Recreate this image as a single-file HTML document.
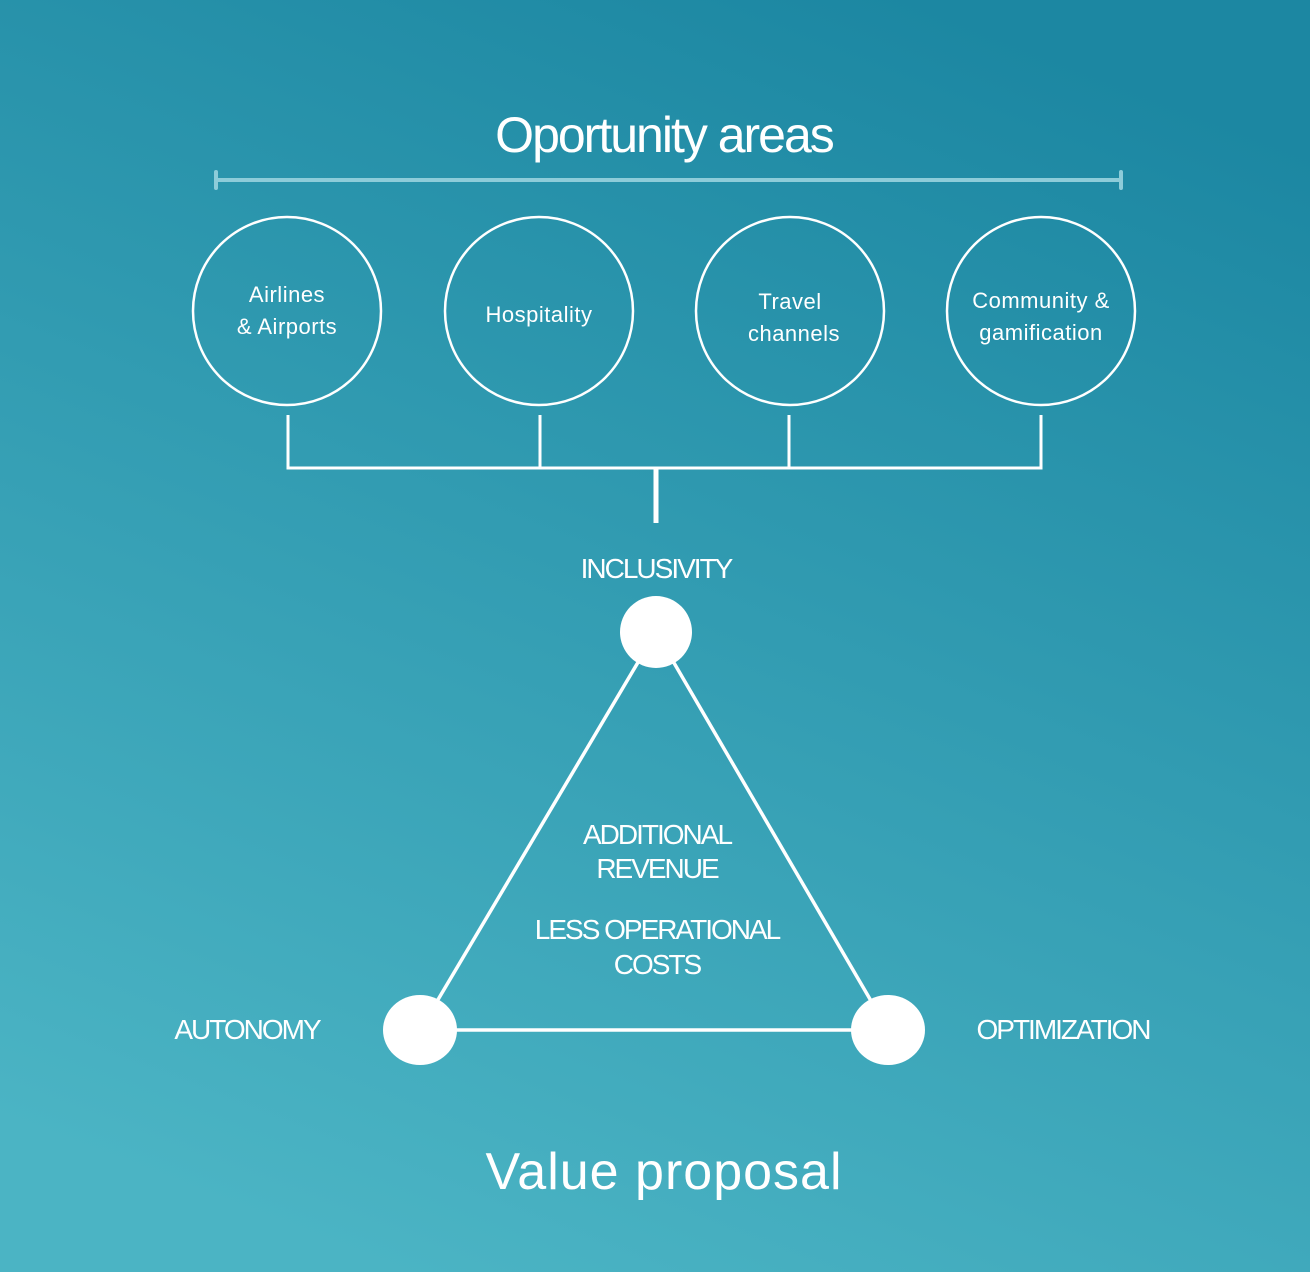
<!DOCTYPE html>
<html><head><style>
html,body{margin:0;padding:0}
body{width:1310px;height:1272px;overflow:hidden}
</style></head><body>
<svg width="1310" height="1272" viewBox="0 0 1310 1272" xmlns="http://www.w3.org/2000/svg" font-family="Liberation Sans, sans-serif">
<defs>
<linearGradient id="bg" x1="0.7" y1="0" x2="0.3" y2="1">
<stop offset="0" stop-color="#1c87a2"/>
<stop offset="1" stop-color="#4bb4c4"/>
</linearGradient>
</defs>
<rect width="1310" height="1272" fill="url(#bg)"/>
<text x="664" y="152" text-anchor="middle" fill="#fff" font-size="50" letter-spacing="-2">Oportunity areas</text>
<g stroke="#8dccd9" stroke-width="4" stroke-linecap="round">
<line x1="216" y1="180" x2="1121" y2="180"/>
<line x1="216" y1="172" x2="216" y2="188"/>
<line x1="1121" y1="172" x2="1121" y2="188"/>
</g>
<g fill="none" stroke="#fff" stroke-width="2.5">
<circle cx="287" cy="311" r="94"/>
<circle cx="539" cy="311" r="94"/>
<circle cx="790" cy="311" r="94"/>
<circle cx="1041" cy="311" r="94"/>
<polyline points="288,415 288,468 1041,468 1041,415" stroke-width="3"/>
<line x1="540" y1="415" x2="540" y2="468" stroke-width="3"/>
<line x1="789" y1="415" x2="789" y2="468" stroke-width="3"/>
<line x1="656" y1="468" x2="656" y2="523" stroke-width="5"/>
<line x1="656" y1="632" x2="420" y2="1030" stroke-width="3.5"/>
<line x1="656" y1="632" x2="888" y2="1030" stroke-width="3.5"/>
<line x1="420" y1="1030" x2="888" y2="1030" stroke-width="3.5"/>
</g>
<g fill="#fff">
<circle cx="656" cy="632" r="36"/>
<ellipse cx="420" cy="1030" rx="37" ry="35"/>
<ellipse cx="888" cy="1030" rx="37" ry="35"/>
</g>
<g fill="#fff" font-size="22" text-anchor="middle" letter-spacing="0.5">
<text x="287" y="302">Airlines</text>
<text x="287" y="334">&amp; Airports</text>
<text x="539" y="322">Hospitality</text>
<text x="790" y="309">Travel</text>
<text x="794" y="341">channels</text>
<text x="1041" y="308">Community &amp;</text>
<text x="1041" y="340">gamification</text>
</g>
<g fill="#fff" font-size="28" text-anchor="middle" letter-spacing="-2">
<text x="656" y="578">INCLUSIVITY</text>
<text x="247" y="1039">AUTONOMY</text>
<text x="1063" y="1039">OPTIMIZATION</text>
<text x="657" y="844">ADDITIONAL</text>
<text x="657" y="878">REVENUE</text>
<text x="657" y="939">LESS OPERATIONAL</text>
<text x="657" y="974">COSTS</text>
</g>
<text x="664" y="1189" text-anchor="middle" fill="#fff" font-size="52" letter-spacing="1">Value proposal</text>
</svg>
</body></html>
